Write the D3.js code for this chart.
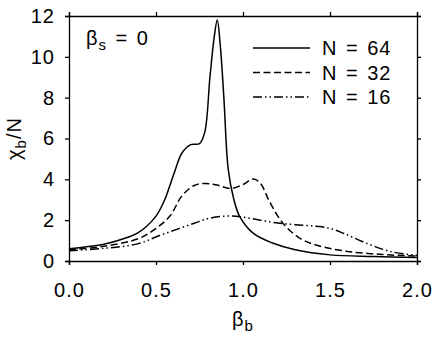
<!DOCTYPE html>
<html>
<head>
<meta charset="utf-8">
<script src="https://cdn.jsdelivr.net/npm/d3@7"></script>
<style>
  body { margin: 0; background: #fff; }
  text { font-family: "Liberation Sans", Arial, sans-serif; fill: #000; }
</style>
</head>
<body>
<div id="chart"></div>
<script>
// N = 64 (solid)
const beta64 = [0, 0.1, 0.2, 0.3, 0.4, 0.5, 0.55, 0.6, 0.65, 0.7, 0.75, 0.78, 0.81, 0.835, 0.852, 0.87, 0.89, 0.915, 0.945, 0.98, 1.06, 1.17, 1.3, 1.5, 1.75, 2.0];
const chi64  = [0.6, 0.7, 0.82, 1.05, 1.4, 2.2, 3.0, 4.2, 5.3, 5.7, 5.75, 6.3, 9.0, 11.0, 11.8, 10.5, 8.0, 4.5, 3.1, 2.2, 1.35, 0.88, 0.55, 0.3, 0.22, 0.17];
// N = 32 (dashed)
const beta32 = [0, 0.2, 0.4, 0.5, 0.58, 0.65, 0.72, 0.78, 0.85, 0.93, 1.0, 1.06, 1.1, 1.15, 1.2, 1.25, 1.33, 1.42, 1.6, 1.8, 2.0];
const chi32  = [0.55, 0.72, 1.1, 1.6, 2.2, 3.2, 3.7, 3.8, 3.72, 3.55, 3.75, 4.02, 3.8, 2.95, 2.2, 1.65, 1.1, 0.78, 0.47, 0.32, 0.24];
// N = 16 (dash-dot-dot)
const beta16 = [0, 0.2, 0.4, 0.52, 0.62, 0.72, 0.8, 0.9, 1.0, 1.1, 1.2, 1.3, 1.42, 1.5, 1.58, 1.7, 1.85, 2.0];
const chi16  = [0.5, 0.62, 0.85, 1.25, 1.55, 1.85, 2.08, 2.2, 2.15, 2.0, 1.86, 1.78, 1.7, 1.6, 1.35, 0.9, 0.46, 0.27];

const seriesLabels = ["N = 64", "N = 32", "N = 16"];
const xTicks = [0, 0.5, 1.0, 1.5, 2.0];
const yTicks = [0, 2, 4, 6, 8, 10, 12];

const width = 443, height = 339;
const margin = {top: 16, right: 26, bottom: 78, left: 69};
const w = width - margin.left - margin.right;
const h = height - margin.top - margin.bottom;

const svg = d3.select("#chart")
    .append("svg")
    .attr("width", width)
    .attr("height", height);

const g = svg.append("g")
    .attr("transform", `translate(${margin.left}, ${margin.top})`);

let x = d3.scaleLinear().domain([0, 2]).range([0, w]);
let y = d3.scaleLinear().domain([0, 12]).range([h, 0]);

// axes on all four sides, ticks pointing out
const fontCss = "font-size:20px; letter-spacing:1px";
g.append("g")
    .attr("transform", `translate(0, ${h})`)
    .call(d3.axisBottom(x).tickValues(xTicks).tickFormat(d3.format(".1f")).tickSizeOuter(0).tickSize(4).tickPadding(18))
    .call(a => a.selectAll("text").attr("style", fontCss));
g.append("g")
    .call(d3.axisTop(x).tickValues(xTicks).tickFormat("").tickSizeOuter(0).tickSize(4));
g.append("g")
    .call(d3.axisLeft(y).tickValues(yTicks).tickSizeOuter(0).tickSize(4).tickPadding(10))
    .call(a => a.selectAll("text").attr("style", fontCss));
g.append("g")
    .attr("transform", `translate(${w}, 0)`)
    .call(d3.axisRight(y).tickValues(yTicks).tickFormat("").tickSizeOuter(0).tickSize(4));
g.selectAll(".domain, .tick line").attr("stroke", "#000").attr("stroke-width", 1.3);

const dashes = [null, "7,3.5", "9,3,1.5,3,1.5,3"];
const series = [[beta64, chi64], [beta32, chi32], [beta16, chi16]];

const line = d3.line()
    .x(d => x(d[0]))
    .y(d => y(d[1]))
    .curve(d3.curveCatmullRom.alpha(0.5));

series.forEach((s, i) => {
    g.append("path")
        .datum(d3.zip(s[0], s[1]))
        .attr("fill", "none")
        .attr("stroke", "#000")
        .attr("stroke-width", 1.5)
        .attr("stroke-dasharray", dashes[i])
        .attr("d", line);
});

// legend
seriesLabels.forEach((lab, i) => {
    const ly = 32 + i * 24.5;
    g.append("line")
        .attr("x1", 184).attr("x2", 241)
        .attr("y1", ly).attr("y2", ly)
        .attr("stroke", "#000").attr("stroke-width", 1.5)
        .attr("stroke-dasharray", dashes[i]);
    g.append("text")
        .attr("x", 253).attr("y", ly + 7)
        .attr("style", fontCss + "; word-spacing:2px")
        .text(lab);
});

// beta_s = 0 annotation
const ann = g.append("text").attr("x", 17).attr("y", 29).attr("style", fontCss);
ann.append("tspan").text("β");
ann.append("tspan").attr("dy", 5).attr("font-size", 15).text("s");
ann.append("tspan").attr("dy", -5).attr("style", "word-spacing:2px").text(" = 0");

// x-axis label
const xl = svg.append("text")
    .attr("x", margin.left + w / 2).attr("y", 326)
    .attr("text-anchor", "middle")
    .attr("style", fontCss);
xl.append("tspan").text("β");
xl.append("tspan").attr("dy", 5).attr("font-size", 15).text("b");

// y-axis label
const yl = svg.append("text")
    .attr("transform", `translate(21, ${margin.top + h / 2}) rotate(-90)`)
    .attr("text-anchor", "middle")
    .attr("style", fontCss);
yl.append("tspan").text("χ");
yl.append("tspan").attr("dy", 5).attr("font-size", 15).text("b");
yl.append("tspan").attr("dy", -5).text("/N");
</script>
</body>
</html>
